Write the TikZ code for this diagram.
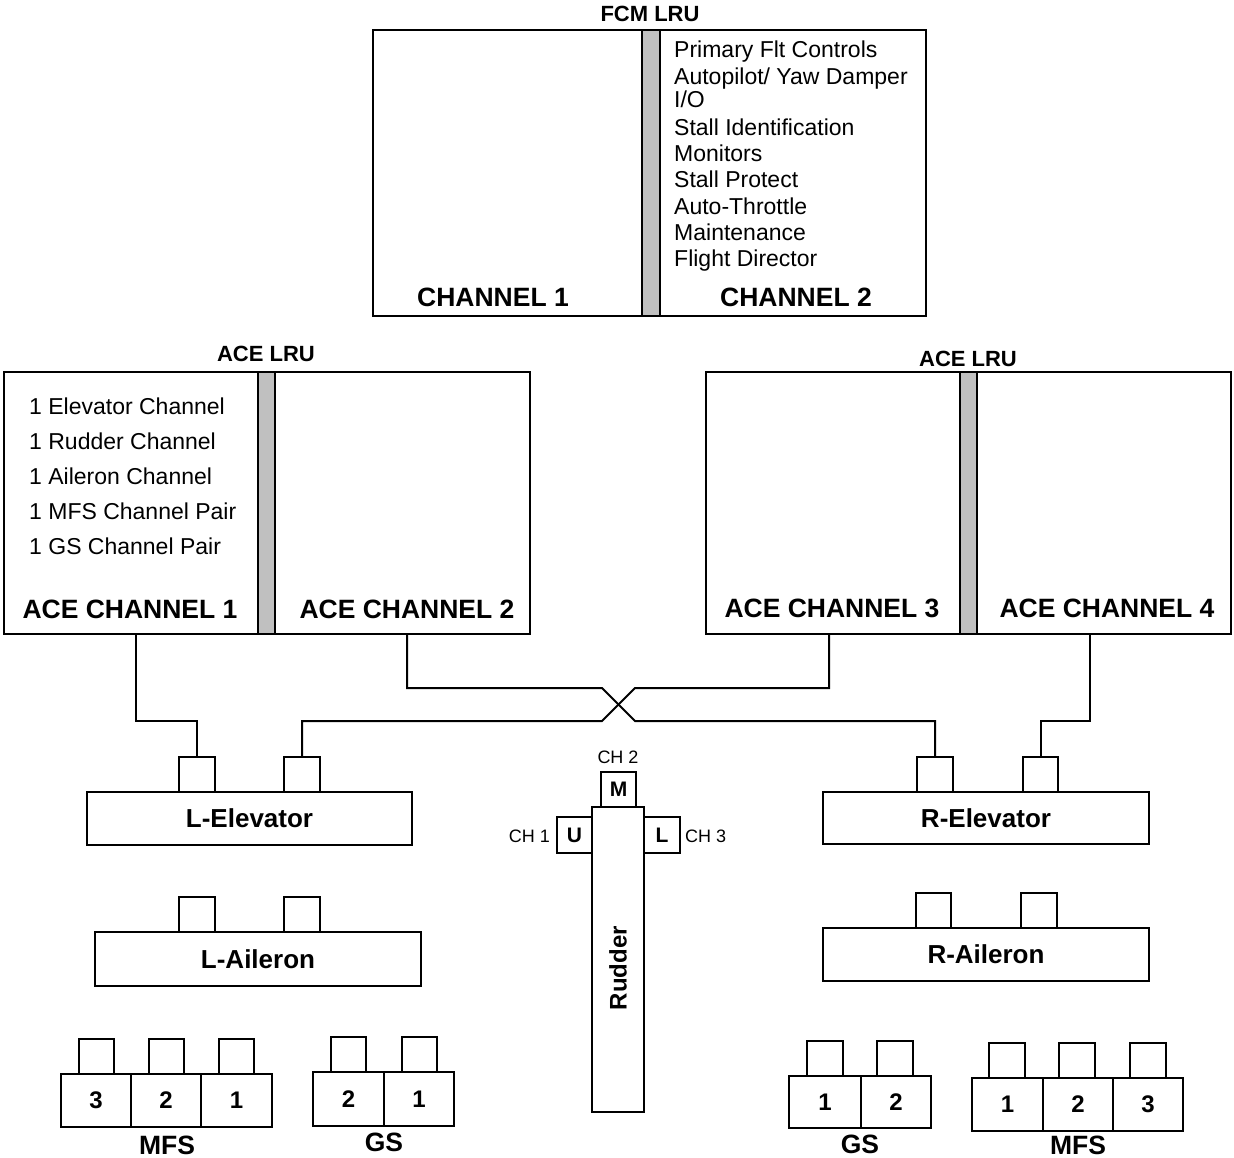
\documentclass[tikz,border=0pt]{standalone}
\usepackage{fontspec}
\setmainfont{Liberation Sans}
\usetikzlibrary{fit}
\definecolor{bargray}{RGB}{192,192,192}
\tikzset{
 blk/.style={draw, line width=2pt, fill=white, inner sep=0pt},
 sepbar/.style={blk, fill=bargray},
 wire/.style={draw, line width=2pt, line join=miter},
 lst/.style={anchor=base west, inner sep=0pt, font=\fontsize{23}{26}\selectfont},
 big/.style={anchor=base, inner sep=0pt, font=\fontsize{26.5}{30}\selectfont\bfseries},
 hdr/.style={anchor=base, inner sep=0pt, font=\fontsize{22}{26}\selectfont\bfseries},
 cmp/.style={inner sep=0pt, font=\fontsize{26}{30}\selectfont\bfseries},
 num/.style={inner sep=0pt, font=\fontsize{24}{26}\selectfont\bfseries},
 lett/.style={inner sep=0pt, font=\fontsize{21}{24}\selectfont\bfseries},
 chl/.style={inner sep=0pt, font=\fontsize{18}{20}\selectfont},
}
\begin{document}
\begin{tikzpicture}[x=1pt,y=-1pt]
\path[fill=white] (0,0) rectangle (1234,1158);
\useasboundingbox (0,0) rectangle (1234,1158);

% ---------- FCM LRU ----------
\node[hdr] (fcmhdr) at (650,22) {FCM LRU};
\node[blk, fit={(373,30) (642,316)}] (fcm1) {};
\node[blk, fit={(660,30) (926,316)}] (fcm2) {};
\node[sepbar, fit={(642,30) (660,316)}] (fcmbar) {};
\node[lst] (f1) at (674,58) {Primary Flt Controls};
\node[lst] (f2) at (674,85) {Autopilot/ Yaw Damper};
\node[lst] (f3) at (674,108) {I/O};
\node[lst] (f4) at (674,136) {Stall Identification};
\node[lst] (f5) at (674,162) {Monitors};
\node[lst] (f6) at (674,188) {Stall Protect};
\node[lst] (f7) at (674,215) {Auto-Throttle};
\node[lst] (f8) at (674,241) {Maintenance};
\node[lst] (f9) at (674,267) {Flight Director};
\node[big] (ch1lbl) at (493,307) {CHANNEL 1};
\node[big] (ch2lbl) at (796,307) {CHANNEL 2};

% ---------- Left ACE LRU ----------
\node[hdr] (acehdrL) at (266,361) {ACE LRU};
\node[blk, fit={(4,372) (258,634)}] (ace1) {};
\node[blk, fit={(275,372) (530,634)}] (ace2) {};
\node[sepbar, fit={(258,372) (275,634)}] (acebarL) {};
\node[lst] (a1) at (29,414) {1 Elevator Channel};
\node[lst] (a2) at (29,449) {1 Rudder Channel};
\node[lst] (a3) at (29,484) {1 Aileron Channel};
\node[lst] (a4) at (29,519) {1 MFS Channel Pair};
\node[lst] (a5) at (29,554) {1 GS Channel Pair};
\node[big] (ace1lbl) at (130,618) {ACE CHANNEL 1};
\node[big] (ace2lbl) at (407,618) {ACE CHANNEL 2};

% ---------- Right ACE LRU ----------
\node[hdr] (acehdrR) at (968,366) {ACE LRU};
\node[blk, fit={(706,372) (960,634)}] (ace3) {};
\node[blk, fit={(977,372) (1231,634)}] (ace4) {};
\node[sepbar, fit={(960,372) (977,634)}] (acebarR) {};
\node[big] (ace3lbl) at (832,617) {ACE CHANNEL 3};
\node[big] (ace4lbl) at (1107,617) {ACE CHANNEL 4};

% ---------- Elevators / Ailerons ----------
\node[blk, fit={(87,792) (412,845)}] (lelev) {};
\node[cmp] (lelevT) at (lelev.center) {L-Elevator};
\node[blk, fit={(179,757) (215,792)}] (le1a) {};
\node[blk, fit={(284,757) (320,792)}] (le1b) {};
\node[blk, fit={(95,932) (421,986)}] (lail) {};
\node[cmp] (lailT) at (lail.center) {L-Aileron};
\node[blk, fit={(179,897) (215,932)}] (la1a) {};
\node[blk, fit={(284,897) (320,932)}] (la1b) {};

\node[blk, fit={(823,792) (1149,844)}] (relev) {};
\node[cmp] (relevT) at (relev.center) {R-Elevator};
\node[blk, fit={(917,757) (953,792)}] (re1a) {};
\node[blk, fit={(1023,757) (1058,792)}] (re1b) {};
\node[blk, fit={(823,928) (1149,981)}] (rail) {};
\node[cmp] (railT) at (rail.center) {R-Aileron};
\node[blk, fit={(916,893) (951,928)}] (ra1a) {};
\node[blk, fit={(1021,893) (1057,928)}] (ra1b) {};

% ---------- Rudder ----------
\node[blk, fit={(592,807) (644,1112)}] (rud) {};
\node[blk, fit={(601,772) (636,807)}] (rudM) {};
\node[blk, fit={(557,817) (592,853)}] (rudU) {};
\node[blk, fit={(644,817) (680,853)}] (rudL) {};
\node[lett] (rudMT) at (rudM.center) {M};
\node[lett] (rudUT) at (rudU.center) {U};
\node[lett] (rudLT) at (rudL.center) {L};
\node[rotate=90, inner sep=0pt, font=\fontsize{24}{28}\selectfont\bfseries] (rudlbl) at (618,968) {Rudder};
\node[chl, anchor=base] (chtwo) at (618,763) {CH 2};
\node[chl, anchor=base east] (chone) at (550,842) {CH 1};
\node[chl, anchor=base west] (chthree) at (685,842) {CH 3};

% ---------- Left MFS / GS ----------
\node[blk, fit={(61,1074) (131,1127)}] (lm3) {};
\node[blk, fit={(131,1074) (201,1127)}] (lm2) {};
\node[blk, fit={(201,1074) (272,1127)}] (lm1) {};
\node[num] (lm3T) at (lm3.center) {3};
\node[num] (lm2T) at (lm2.center) {2};
\node[num] (lm1T) at (lm1.center) {1};
\node[blk, fit={(79,1039) (114,1074)}] (lm3c) {};
\node[blk, fit={(149,1039) (184,1074)}] (lm2c) {};
\node[blk, fit={(219,1039) (254,1074)}] (lm1c) {};
\node[big] (lmfs) at (167,1154) {MFS};

\node[blk, fit={(313,1072) (384,1126)}] (lg2) {};
\node[blk, fit={(384,1072) (454,1126)}] (lg1) {};
\node[num] (lg2T) at (lg2.center) {2};
\node[num] (lg1T) at (lg1.center) {1};
\node[blk, fit={(331,1037) (366,1072)}] (lg2c) {};
\node[blk, fit={(402,1037) (437,1072)}] (lg1c) {};
\node[big] (lgs) at (384,1151) {GS};

% ---------- Right GS / MFS ----------
\node[blk, fit={(789,1076) (861,1128)}] (rg1) {};
\node[blk, fit={(861,1076) (931,1128)}] (rg2) {};
\node[num] (rg1T) at (rg1.center) {1};
\node[num] (rg2T) at (rg2.center) {2};
\node[blk, fit={(807,1041) (843,1076)}] (rg1c) {};
\node[blk, fit={(877,1041) (913,1076)}] (rg2c) {};
\node[big] (rgs) at (860,1153) {GS};

\node[blk, fit={(972,1078) (1043,1131)}] (rm1) {};
\node[blk, fit={(1043,1078) (1113,1131)}] (rm2) {};
\node[blk, fit={(1113,1078) (1183,1131)}] (rm3) {};
\node[num] (rm1T) at (rm1.center) {1};
\node[num] (rm2T) at (rm2.center) {2};
\node[num] (rm3T) at (rm3.center) {3};
\node[blk, fit={(989,1043) (1025,1078)}] (rm1c) {};
\node[blk, fit={(1059,1043) (1095,1078)}] (rm2c) {};
\node[blk, fit={(1130,1043) (1166,1078)}] (rm3c) {};
\node[big] (rmfs) at (1078,1154) {MFS};

% ---------- Connectors ----------
\coordinate (xa) at (602,688);
\coordinate (xb) at (635,721);
\coordinate (xc) at (635,688);
\coordinate (xd) at (602,721);
\draw[wire] ([xshift=5pt]ace1.south) -- ++(0,86) -| (le1a.north);
\draw[wire] ([xshift=4.5pt]ace2.south) |- (xa) -- (xb) -| (re1a.north);
\draw[wire] ([xshift=-4pt]ace3.south) |- (xc) -- (xd) -| (le1b.north);
\draw[wire] ([xshift=-14pt]ace4.south) -- ++(0,86) -| (re1b.north);
\end{tikzpicture}
\end{document}
